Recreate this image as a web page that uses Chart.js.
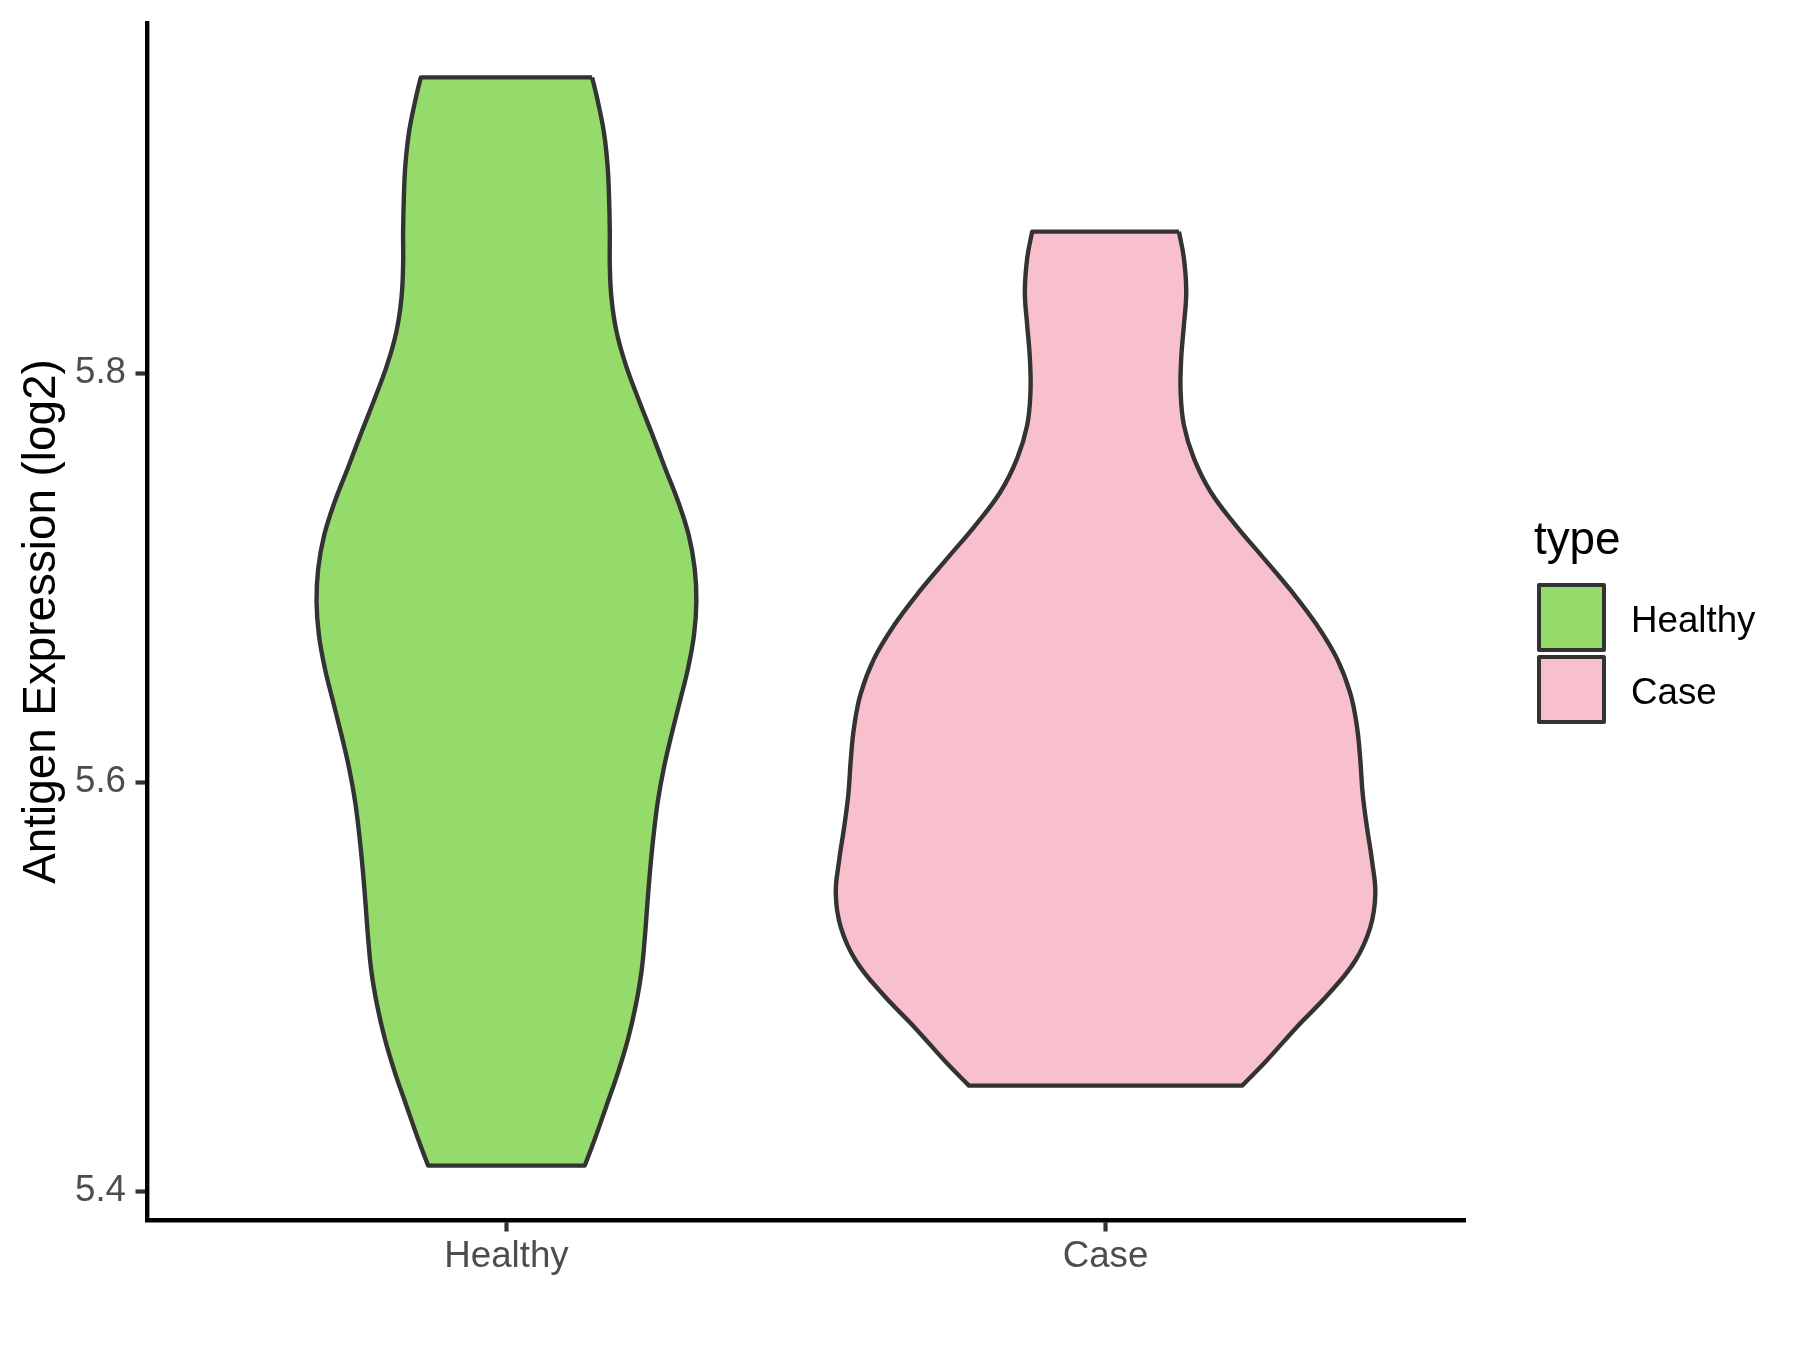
<!DOCTYPE html>
<html><head><meta charset="utf-8">
<script src="https://cdn.jsdelivr.net/npm/chart.js@4.4.1/dist/chart.umd.min.js"></script>
<style>
html,body{margin:0;padding:0;background:#fff;}
#wrap{position:relative;width:1800px;height:1350px;overflow:hidden;}
#c{position:absolute;left:0;top:0;}
.lg{position:absolute;font-family:"Liberation Sans",Arial,sans-serif;color:#000;white-space:nowrap;}
.key{position:absolute;box-sizing:border-box;border:4.2px solid #333333;border-radius:2px;}
</style></head><body>
<div id="wrap"><canvas id="c" width="1800" height="1350"></canvas><div id="legend"></div></div>
<script>
// ---- data ----
const categories = ["Healthy", "Case"];
const fillColors = ["#95DB6B", "#F8C0CC"];
const yTicks = [5.4, 5.6, 5.8];
const yTitle = "Antigen Expression (log2)";
const legendTitle = "type";

// violin outlines: levels (top to bottom) and half-widths in category units
const healthyLevels = [5.9446, 5.9345, 5.9181, 5.9018, 5.8855, 5.8692, 5.8529, 5.8366, 5.8203, 5.8040, 5.7877, 5.7713, 5.7534, 5.7371, 5.7208, 5.7045, 5.6881, 5.6718, 5.6555, 5.6392, 5.6229, 5.6066, 5.5903, 5.5724, 5.5560, 5.5397, 5.5234, 5.5071, 5.4908, 5.4745, 5.4581, 5.4418, 5.4255, 5.4125];
const healthyHalfWidths = [0.1430, 0.1513, 0.1625, 0.1687, 0.1713, 0.1725, 0.1725, 0.1753, 0.1837, 0.1992, 0.2197, 0.2417, 0.2650, 0.2867, 0.3042, 0.3142, 0.3170, 0.3130, 0.3030, 0.2892, 0.2753, 0.2625, 0.2525, 0.2450, 0.2395, 0.2350, 0.2308, 0.2253, 0.2158, 0.2030, 0.1863, 0.1670, 0.1475, 0.1308];
const caseLevels = [5.8692, 5.8562, 5.8398, 5.8235, 5.8072, 5.7909, 5.7746, 5.7583, 5.7420, 5.7257, 5.7094, 5.6930, 5.6767, 5.6604, 5.6433, 5.6270, 5.6107, 5.5944, 5.5780, 5.5617, 5.5454, 5.5291, 5.5128, 5.4965, 5.4802, 5.4639, 5.4516];
const caseHalfWidths = [0.1225, 0.1308, 0.1347, 0.1308, 0.1263, 0.1253, 0.1308, 0.1475, 0.1753, 0.2170, 0.2642, 0.3113, 0.3530, 0.3863, 0.4087, 0.4197, 0.4253, 0.4292, 0.4363, 0.4447, 0.4503, 0.4420, 0.4170, 0.3725, 0.3190, 0.2690, 0.2280];

const groups = [
  {levels: healthyLevels, widths: healthyHalfWidths},
  {levels: caseLevels, widths: caseHalfWidths}
];

// closed outline: right side top->bottom, bottom edge, left side bottom->top, top edge.
// corner points are repeated so the smoothed curve keeps sharp corners and straight ends.
function outline(center, levels, widths) {
  const n = levels.length;
  const right = levels.map((v, i) => ({x: center + widths[i], y: v}));
  const left = levels.map((v, i) => ({x: center - widths[i], y: v}));
  const pts = [];
  for (let i = 0; i < n; i++) pts.push(right[i]);
  pts.push(right[n - 1]);
  for (let i = n - 1; i >= 0; i--) {
    pts.push(left[i]);
    if (i === n - 1 || i === 0) pts.push(left[i]);
  }
  pts.push(right[0]);
  return pts;
}

const allLevels = healthyLevels.concat(caseLevels);
const dMin = Math.min(...allLevels), dMax = Math.max(...allLevels);
const pad = (dMax - dMin) * 0.05;
const yMin = dMin - pad, yMax = dMax + pad;

const FONT = '"Liberation Sans", Arial, sans-serif';
Chart.defaults.font.family = FONT;

const datasets = groups.map((g, i) => ({
  label: categories[i],
  data: outline(i + 1, g.levels, g.widths),
  showLine: true,
  fill: 'shape',
  backgroundColor: fillColors[i],
  borderColor: '#333333',
  borderWidth: 4.4,
  borderJoinStyle: 'round',
  pointRadius: 0,
  pointHoverRadius: 0,
  tension: 0.4
}));

new Chart(document.getElementById('c'), {
  type: 'scatter',
  data: {datasets},
  options: {
    responsive: false,
    animation: false,
    devicePixelRatio: 1,
    layout: {padding: {left: 0, right: 335, top: 23, bottom: 0}},
    plugins: {legend: {display: false}, tooltip: {enabled: false}},
    scales: {
      x: {
        type: 'linear', min: 0.4, max: 2.6,
        afterBuildTicks: s => { s.ticks = categories.map((c, i) => ({value: i + 1})); },
        afterFit: s => { s.height = 130; s.paddingLeft = 0; s.paddingRight = 0; },
        ticks: {
          callback: (v, i) => categories[i],
          font: {size: 36.7}, color: '#4D4D4D', padding: 3,
          maxRotation: 0, autoSkip: false
        },
        grid: {drawOnChartArea: false, drawTicks: true, tickLength: 11.5, tickWidth: 4.2, tickColor: '#333333'},
        border: {display: true, color: '#000000', width: 4.4}
      },
      y: {
        type: 'linear', min: yMin, max: yMax,
        afterBuildTicks: s => { s.ticks = yTicks.map(v => ({value: v})); },
        afterFit: s => { s.width = 147; s.paddingTop = 0; s.paddingBottom = 0; },
        ticks: {
          callback: v => Number(v).toFixed(1),
          font: {size: 36.7}, color: '#4D4D4D', padding: 9.5
        },
        title: {display: true, text: yTitle, color: '#000000', font: {size: 45.8}, padding: {top: 15, bottom: 0}},
        grid: {drawOnChartArea: false, drawTicks: true, tickLength: 11.5, tickWidth: 4.2, tickColor: '#333333'},
        border: {display: true, color: '#000000', width: 4.4}
      }
    }
  }
});

// legend (HTML text)
(function () {
  const L = document.getElementById('legend');
  const t = document.createElement('div');
  t.className = 'lg';
  t.textContent = legendTitle;
  t.style.cssText = 'left:1534px;top:516px;font-size:45.8px;line-height:45.8px;';
  L.appendChild(t);
  const keyTop = [583, 654.5];
  categories.forEach((c, i) => {
    const k = document.createElement('div');
    k.className = 'key';
    k.style.cssText = `left:1537px;top:${keyTop[i]}px;width:69px;height:69px;background:${fillColors[i]};`;
    L.appendChild(k);
    const tx = document.createElement('div');
    tx.className = 'lg';
    tx.textContent = c;
    tx.style.cssText = `left:1631px;top:${keyTop[i] + 34.5 + 16 - 31.1}px;font-size:36.7px;line-height:36.7px;`;
    L.appendChild(tx);
  });
})();
</script>
</body></html>
